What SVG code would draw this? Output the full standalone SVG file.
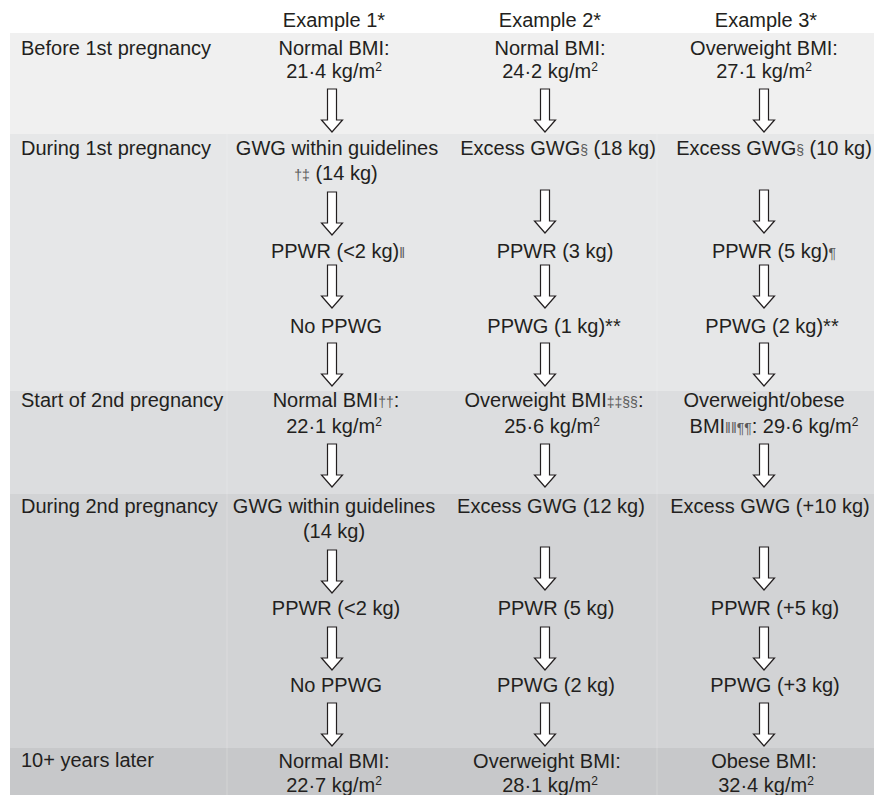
<svg xmlns="http://www.w3.org/2000/svg" xmlns:xlink="http://www.w3.org/1999/xlink" width="877" height="795" viewBox="0 0 877 795">
<style>
text{font-family:"Liberation Sans",Arial,Helvetica,sans-serif;font-size:20px;fill:#231f20}
.c{text-anchor:middle}
.sym{font-size:14px;fill:#5a5a5a}
.sup{font-size:12px}
.arr{fill:#fff;stroke:#231f20;stroke-width:1.2;stroke-linejoin:miter}
.grid{stroke:#fff;stroke-opacity:0.22;stroke-width:1}
</style>
<defs>
<path id="arrow" class="arr" d="M-4.5,0 H4.5 V31 H10.5 L0,43 L-10.5,31 H-4.5 Z"/>
<clipPath id="lab"><rect x="0" y="380" width="227" height="40"/></clipPath>
</defs>
<rect width="877" height="795" fill="#fff"/>
<g id="bands">
<rect x="10" y="33" width="864" height="101" fill="#f0f0f0"/>
<rect x="10" y="134" width="864" height="257" fill="#e6e7e8"/>
<rect x="10" y="391" width="864" height="103" fill="#dcdddf"/>
<rect x="10" y="494" width="864" height="254" fill="#d2d3d5"/>
<rect x="10" y="748" width="864" height="47" fill="#c7c8ca"/>
<line class="grid" x1="227" y1="134" x2="227" y2="795"/>
<line class="grid" x1="657" y1="134" x2="657" y2="795"/>
</g>
<g id="header">
<text class="c" x="334" y="27">Example 1*</text>
<text class="c" x="550" y="27">Example 2*</text>
<text class="c" x="766" y="27">Example 3*</text>
</g>
<g id="labels">
<text x="21" y="55">Before 1st pregnancy</text>
<text x="21" y="155">During 1st pregnancy</text>
<text x="21" y="407" clip-path="url(#lab)">Start of 2nd pregnancy</text>
<text x="21" y="513">During 2nd pregnancy</text>
<text x="21" y="767">10+ years later</text>
</g>
<g id="example1">
<g id="e1-n1"><text class="c" x="334" y="55">Normal BMI:</text><text class="c" x="334" y="78">21·4 kg/m<tspan class="sup" dy="-7">2</tspan></text></g>
<g id="e1-n2"><text class="c" x="337" y="155">GWG within guidelines</text><text class="c" x="336" y="180"><tspan class="sym">†‡</tspan> (14 kg)</text></g>
<g id="e1-n3"><text class="c" x="338" y="258">PPWR (&lt;2 kg)<tspan class="sym">‖</tspan></text></g>
<g id="e1-n4"><text class="c" x="336" y="333">No PPWG</text></g>
<g id="e1-n5"><text class="c" x="336" y="407">Normal BMI<tspan class="sym">††</tspan>:</text><text class="c" x="334" y="433">22·1 kg/m<tspan class="sup" dy="-7">2</tspan></text></g>
<g id="e1-n6"><text class="c" x="334" y="513">GWG within guidelines</text><text class="c" x="334" y="538">(14 kg)</text></g>
<g id="e1-n7"><text class="c" x="336" y="615">PPWR (&lt;2 kg)</text></g>
<g id="e1-n8"><text class="c" x="336" y="692">No PPWG</text></g>
<g id="e1-n9"><text class="c" x="334" y="768">Normal BMI:</text><text class="c" x="334" y="792">22·7 kg/m<tspan class="sup" dy="-7">2</tspan></text></g>
</g>
<g id="example2">
<g id="e2-n1"><text class="c" x="550" y="55">Normal BMI:</text><text class="c" x="550" y="78">24·2 kg/m<tspan class="sup" dy="-7">2</tspan></text></g>
<g id="e2-n2"><text class="c" x="558" y="155">Excess GWG<tspan class="sym">§</tspan> (18 kg)</text></g>
<g id="e2-n3"><text class="c" x="555" y="258">PPWR (3 kg)</text></g>
<g id="e2-n4"><text class="c" x="554" y="333">PPWG (1 kg)**</text></g>
<g id="e2-n5"><text class="c" x="554" y="407">Overweight BMI<tspan class="sym">‡‡§§</tspan>:</text><text class="c" x="552" y="433">25·6 kg/m<tspan class="sup" dy="-7">2</tspan></text></g>
<g id="e2-n6"><text class="c" x="551" y="513">Excess GWG (12 kg)</text></g>
<g id="e2-n7"><text class="c" x="556" y="615">PPWR (5 kg)</text></g>
<g id="e2-n8"><text class="c" x="556" y="692">PPWG (2 kg)</text></g>
<g id="e2-n9"><text class="c" x="547" y="768">Overweight BMI:</text><text class="c" x="550" y="792">28·1 kg/m<tspan class="sup" dy="-7">2</tspan></text></g>
</g>
<g id="example3">
<g id="e3-n1"><text class="c" x="764" y="55">Overweight BMI:</text><text class="c" x="764" y="78">27·1 kg/m<tspan class="sup" dy="-7">2</tspan></text></g>
<g id="e3-n2"><text class="c" x="774" y="155">Excess GWG<tspan class="sym">§</tspan> (10 kg)</text></g>
<g id="e3-n3"><text class="c" x="774" y="258">PPWR (5 kg)<tspan class="sym">¶</tspan></text></g>
<g id="e3-n4"><text class="c" x="772" y="333">PPWG (2 kg)**</text></g>
<g id="e3-n5"><text class="c" x="764" y="407">Overweight/obese</text><text class="c" x="774" y="433">BMI<tspan class="sym">‖‖¶¶</tspan>: 29·6 kg/m<tspan class="sup" dy="-7">2</tspan></text></g>
<g id="e3-n6"><text class="c" x="770" y="513">Excess GWG (+10 kg)</text></g>
<g id="e3-n7"><text class="c" x="775" y="615">PPWR (+5 kg)</text></g>
<g id="e3-n8"><text class="c" x="775" y="692">PPWG (+3 kg)</text></g>
<g id="e3-n9"><text class="c" x="764" y="768">Obese BMI:</text><text class="c" x="766" y="792">32·4 kg/m<tspan class="sup" dy="-7">2</tspan></text></g>
</g>
<g id="connectors">
<use xlink:href="#arrow" x="332" y="89"/>
<use xlink:href="#arrow" x="332" y="192"/>
<use xlink:href="#arrow" x="332" y="265"/>
<use xlink:href="#arrow" x="332" y="343"/>
<use xlink:href="#arrow" x="332" y="444"/>
<use xlink:href="#arrow" x="332" y="550"/>
<use xlink:href="#arrow" x="332" y="627"/>
<use xlink:href="#arrow" x="332" y="703"/>
<use xlink:href="#arrow" x="545" y="89"/>
<use xlink:href="#arrow" x="545" y="190"/>
<use xlink:href="#arrow" x="545" y="265"/>
<use xlink:href="#arrow" x="545" y="343"/>
<use xlink:href="#arrow" x="545" y="444"/>
<use xlink:href="#arrow" x="545" y="547"/>
<use xlink:href="#arrow" x="545" y="627"/>
<use xlink:href="#arrow" x="545" y="703"/>
<use xlink:href="#arrow" x="764" y="89"/>
<use xlink:href="#arrow" x="764" y="190"/>
<use xlink:href="#arrow" x="764" y="265"/>
<use xlink:href="#arrow" x="764" y="343"/>
<use xlink:href="#arrow" x="764" y="444"/>
<use xlink:href="#arrow" x="764" y="547"/>
<use xlink:href="#arrow" x="764" y="627"/>
<use xlink:href="#arrow" x="764" y="703"/>
</g>
</svg>
